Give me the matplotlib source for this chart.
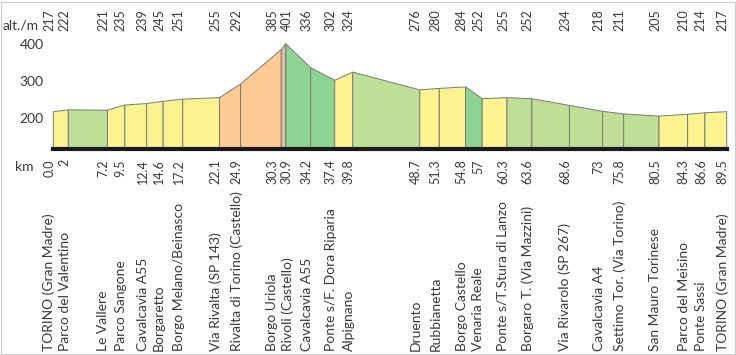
import matplotlib
matplotlib.use("Agg")
import matplotlib.pyplot as plt
import matplotlib.transforms as mtransforms
from matplotlib.patches import Polygon, Rectangle

km = [0.0, 2, 7.2, 9.5, 12.4, 14.6, 17.2, 22.1, 24.9, 30.3, 30.9, 34.2, 37.4, 39.8,
      48.7, 51.3, 54.8, 57, 60.3, 63.6, 68.6, 73, 75.8, 80.5, 84.3, 86.6, 89.5]
km_labels = ['0.0', '2', '7.2', '9.5', '12.4', '14.6', '17.2', '22.1', '24.9', '30.3',
             '30.9', '34.2', '37.4', '39.8', '48.7', '51.3', '54.8', '57', '60.3', '63.6',
             '68.6', '73', '75.8', '80.5', '84.3', '86.6', '89.5']
alt = [217, 222, 221, 235, 239, 245, 251, 255, 292, 385, 401, 336, 302, 324,
       276, 280, 284, 252, 255, 252, 234, 218, 211, 205, 210, 214, 217]
places = ['TORINO (Gran Madre)', 'Parco del Valentino', 'Le Vallere', 'Parco Sangone',
          'Cavalcavia A55', 'Borgaretto', 'Borgo Melano/Beinasco', 'Via Rivalta (SP 143)',
          'Rivalta di Torino (Castello)', 'Borgo Uriola', 'Rivoli (Castello)',
          'Cavalcavia A55', 'Ponte s/F. Dora Riparia', 'Alpignano', 'Druento',
          'Rubbianetta', 'Borgo Castello', 'Venaria Reale', 'Ponte s/T.Stura di Lanzo',
          'Borgaro T. (Via Mazzini)', 'Via Rivarolo (SP 267)', 'Cavalcavia A4',
          'Settimo Tor. (Via Torino)', 'San Mauro Torinese', 'Parco del Meisino',
          'Ponte Sassi', 'TORINO (Gran Madre)']
# surface type of each stretch between two points
surface = ['Y', 'G', 'Y', 'Y', 'Y', 'Y', 'Y', 'O', 'O', 'T', 'M', 'M', 'Y',
           'G', 'Y', 'Y', 'M', 'Y', 'G', 'G', 'G', 'G', 'G', 'Y', 'Y', 'Y']

colors = {'Y': '#faf390', 'G': '#bfdf97', 'O': '#fdcb93', 'T': '#dcbfa1', 'M': '#8dd391'}

W, H = 736, 355
TXT = '#3a3a3a'
plt.rcParams['font.family'] = 'Lato'

fig = plt.figure(figsize=(W / 100, H / 100), dpi=100)
left, right = 53.3, 726.7
top, bottom = 30, 149
ax = fig.add_axes([left / W, 1 - bottom / H, (right - left) / W, (bottom - top) / H])
ymin, ymax = 116, 438
ax.set_xlim(km[0], km[-1])
ax.set_ylim(ymin, ymax)

for i, s in enumerate(surface):
    pts = [(km[i], ymin), (km[i], alt[i]), (km[i + 1], alt[i + 1]), (km[i + 1], ymin)]
    ax.add_patch(Polygon(pts, closed=True, facecolor=colors[s], edgecolor='#7a7a7a',
                         linewidth=0.7, clip_on=False))

ax.plot([km[0], km[-1]], [ymin, ymin], color='#1a1a1a', linewidth=3,
        solid_capstyle='projecting', clip_on=False, zorder=5)

for sp in ax.spines.values():
    sp.set_visible(False)
ax.set_xticks([])
ax.set_yticks([200, 300, 400])
ax.tick_params(axis='y', length=0, pad=7, labelsize=10, labelcolor=TXT)


def spread(xs, gap):
    out = list(xs)
    for i in range(len(out) - 1):
        if out[i + 1] - out[i] < gap:
            mid = (out[i] + out[i + 1]) / 2
            out[i], out[i + 1] = mid - gap / 2, mid + gap / 2
    return out


px_per_km = (right - left) / (km[-1] - km[0])
trans = mtransforms.blended_transform_factory(ax.transData, fig.transFigure)

xs_small = spread(km, 14 / px_per_km)
xs_names = spread(km, 16 / px_per_km)

for x, a in zip(xs_small, alt):
    fig.text(x, 1 - 9 / H, str(a), transform=trans, rotation=90, rotation_mode='anchor',
             ha='right', va='baseline', fontsize=9, color=TXT)

for x, lab in zip(xs_small, km_labels):
    fig.text(x, 1 - 159 / H, lab, transform=trans, rotation=90, rotation_mode='anchor',
             ha='right', va='baseline', fontsize=9, color=TXT)

for x, name in zip(xs_names, places):
    fig.text(x, 1 - 351 / H, name, transform=trans, rotation=90, rotation_mode='anchor',
             ha='left', va='baseline', fontsize=10, color=TXT)

fig.text(3 / W, 1 - 25 / H, 'alt./m', ha='left', va='center', fontsize=10, color=TXT)
fig.text(34 / W, 1 - 167 / H, 'km', ha='right', va='center', fontsize=10, color=TXT)

fig.add_artist(Rectangle((0.5 / W, 1.5 / H), (W - 1.5) / W, (H - 3) / H,
                         transform=fig.transFigure, fill=False, edgecolor='#cccccc',
                         linewidth=0.8))

fig.savefig('out.png', dpi=100)
